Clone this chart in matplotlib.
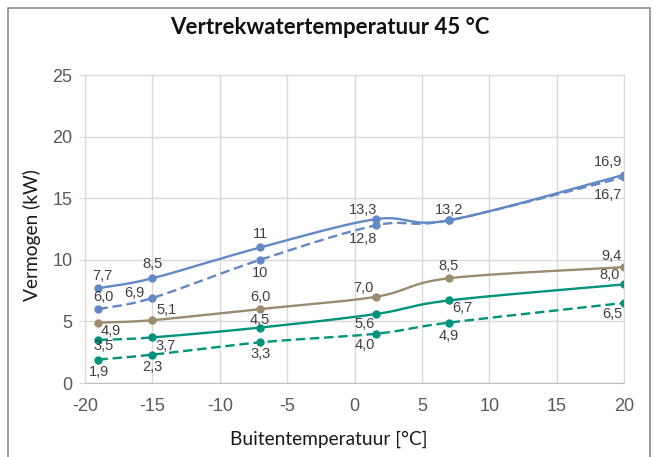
import numpy as np
import matplotlib.pyplot as plt
from matplotlib.patches import Rectangle

plt.rcParams["font.family"] = ["Liberation Sans", "DejaVu Sans"]
plt.rcParams["axes.unicode_minus"] = False

# Data
temps = [-19, -15, -7, 1.6, 7, 20]
blue_max = [7.7, 8.5, 11, 13.3, 13.2, 16.9]
blue_nom = [6.0, 6.9, 10, 12.8, 13.2, 16.7]
brown = [4.9, 5.1, 6.0, 7.0, 8.5, 9.4]
green_max = [3.5, 3.7, 4.5, 5.6, 6.7, 8.0]
green_min = [1.9, 2.3, 3.3, 4.0, 4.9, 6.5]
xticks = [-20, -15, -10, -5, 0, 5, 10, 15, 20]
yticks = [0, 5, 10, 15, 20, 25]

BLUE = "#6288c6"
BROWN = "#9c8b6f"
GREEN = "#00937c"
LABEL = "#404040"


def smooth(x, y, n=40):
    # Excel-like smoothed line (cubic Bezier through the points)
    x = np.asarray(x, float)
    y = np.asarray(y, float)
    px = np.concatenate([[x[0]], x, [x[-1]]])
    py = np.concatenate([[y[0]], y, [y[-1]]])
    xs, ys = [], []
    t = np.linspace(0, 1, n)
    for i in range(1, len(px) - 2):
        p0 = np.array([px[i], py[i]])
        p3 = np.array([px[i + 1], py[i + 1]])
        p1 = p0 + (np.array([px[i + 1], py[i + 1]]) - np.array([px[i - 1], py[i - 1]])) / 6
        p2 = p3 - (np.array([px[i + 2], py[i + 2]]) - np.array([px[i], py[i]])) / 6
        b = ((1 - t) ** 3)[:, None] * p0 + (3 * (1 - t) ** 2 * t)[:, None] * p1 \
            + (3 * (1 - t) * t ** 2)[:, None] * p2 + (t ** 3)[:, None] * p3
        xs.append(b[:, 0])
        ys.append(b[:, 1])
    return np.concatenate(xs), np.concatenate(ys)


fig = plt.figure(figsize=(6.59, 4.57), dpi=100)
ax = fig.add_axes([85 / 659, 1 - 383 / 457, (624 - 85) / 659, (383 - 75) / 457])

# frame around the whole chart
fig.patches.append(Rectangle((8 / 659, -0.05), (650 - 8) / 659, 1.05 - 8 / 457,
                             transform=fig.transFigure, fill=False,
                             edgecolor="#8c8c8c", linewidth=1.2))

lw = 1.7
ms = 5
dash = (0, (4, 2))

# blue series
sx, sy = smooth(temps, blue_max)
ax.plot(sx, sy, color=BLUE, lw=lw)
ax.plot(temps, blue_max, "o", color=BLUE, ms=ms)
sx, sy = smooth(temps, blue_nom)
ax.plot(sx, sy, color=BLUE, lw=lw, linestyle=dash)
ax.plot(temps, blue_nom, "o", color=BLUE, ms=ms)

# brown series
sx, sy = smooth(temps, brown)
ax.plot(sx, sy, color=BROWN, lw=lw)
ax.plot(temps, brown, "o", color=BROWN, ms=ms)

# green solid series (first segment dashed)
sx, sy = smooth(temps, green_max)
first = sx <= temps[1]
ax.plot(sx[first], sy[first], color=GREEN, lw=lw, linestyle=dash)
ax.plot(sx[~first], sy[~first], color=GREEN, lw=lw)
ax.plot(temps, green_max, "o", color=GREEN, ms=ms)

# green dashed series
sx, sy = smooth(temps, green_min)
ax.plot(sx, sy, color=GREEN, lw=lw, linestyle=dash)
ax.plot(temps, green_min, "o", color=GREEN, ms=ms)

# data labels (offsets in pixels)
labels = [
    (blue_max, ["7,7", "8,5", "11", "13,3", "13,2", "16,9"],
     [(4, 12), (0, 14), (0, 13), (-13, 9), (0, 10), (-16, 13)]),
    (blue_nom, ["6,0", "6,9", "10", "12,8", None, "16,7"],
     [(5, 12), (-18, 5), (0, -13), (-13, -14), None, (-16, -18)]),
    (brown, ["4,9", "5,1", "6,0", "7,0", "8,5", "9,4"],
     [(12, -8), (14, 10), (0, 12), (-13, 9), (0, 12), (-12, 11)]),
    (green_max, ["3,5", "3,7", "4,5", "5,6", "6,7", "8,0"],
     [(5, -6), (13, -9), (0, 8), (-11, -10), (14, -8), (-14, 9)]),
    (green_min, ["1,9", "2,3", "3,3", "4,0", "4,9", "6,5"],
     [(1, -12), (0, -12), (0, -12), (-11, -11), (0, -13), (-12, -11)]),
]
for vals, texts, offs in labels:
    for xv, yv, txt, off in zip(temps, vals, texts, offs):
        if txt is None:
            continue
        ax.annotate(txt, xy=(xv, yv), xytext=off, textcoords="offset pixels",
                    ha="center", va="center", fontsize=10.5, color=LABEL)

ax.set_xlim(-20, 20)
ax.set_ylim(0, 25)
ax.set_xticks(xticks)
ax.set_yticks(yticks)
ax.grid(True, color="#d9d9d9", lw=1)
ax.set_axisbelow(True)
for side in ["top", "right", "left"]:
    ax.spines[side].set_color("#d9d9d9")
ax.spines["bottom"].set_color("#bfbfbf")
ax.tick_params(axis="x", length=0, pad=11, labelsize=13, labelcolor="#595959")
ax.tick_params(axis="y", length=4, color="#d9d9d9", pad=5, labelsize=13, labelcolor="#595959")

fig.text(329 / 659, 1 - 439 / 457, "Buitentemperatuur [°C]", ha="center", va="center",
         fontsize=13.8, family="Lato", color="#1a1a1a")
fig.text(32 / 659, 1 - 235 / 457, "Vermogen (kW)", ha="center", va="center", rotation=90,
         fontsize=13.8, family="Lato", color="#1a1a1a")
fig.text(330 / 659, 1 - 28 / 457, "Vertrekwatertemperatuur 45 °C", ha="center", va="center",
         fontsize=16, fontweight="bold", family="Lato", color="#111111")

fig.savefig("out.png", dpi=100)
